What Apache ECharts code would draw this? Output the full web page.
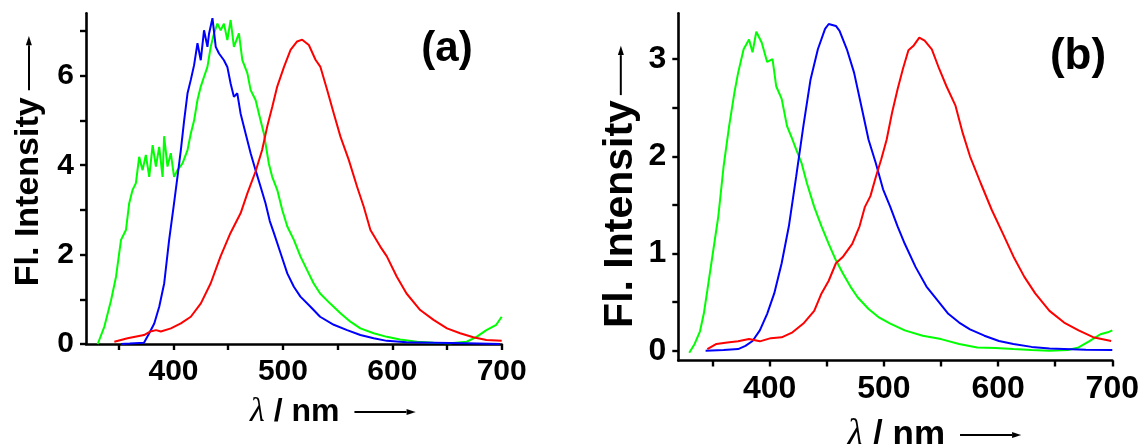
<!DOCTYPE html>
<html><head><meta charset="utf-8">
<script src="https://cdn.jsdelivr.net/npm/echarts@6/dist/echarts.min.js"></script>
<style>html,body{margin:0;padding:0;background:#fff}#c{width:1147px;height:444px}</style>
</head><body><div id="c"></div>
<script>
// ---- axis ticks / labels ----
const xTickValues = [350, 400, 450, 500, 550, 600, 650, 700];
const xLabelValues = [400, 500, 600, 700];
const yTickValuesA = [0, 1, 2, 3, 4, 5, 6, 7];
const yLabelValuesA = [0, 2, 4, 6];
const yTickValuesB = [0, 0.5, 1, 1.5, 2, 2.5, 3];
const yLabelValuesB = [0, 1, 2, 3];
const panelLabels = ['(a)', '(b)'];

// ---- panel (a) spectra: [wavelength nm, intensity] ----
const greenA = [[330.7,0],[336.8,0.39],[342.9,0.98],[347.4,1.5],[352,2.33],[356.5,2.55],[359.5,3.15],[362.6,3.45],[365.6,3.6],[368.6,4.19],[371.7,3.89],[374.7,4.23],[377.8,3.74],[380.9,4.45],[383.9,3.97],[386.9,4.41],[390,3.74],[391.4,4.65],[394.5,3.97],[397.5,4.27],[400.5,3.74],[403.6,3.89],[408.2,4.04],[412.8,4.34],[415.8,4.71],[418.8,5.0],[421.9,5.46],[424.9,5.76],[427.9,5.98],[431,6.2],[434,6.65],[437,6.95],[440.1,7.17],[443.1,7.02],[446.1,7.17],[449.2,6.8],[452.2,7.25],[455.2,6.65],[459.8,6.95],[462.9,6.35],[467.5,6.06],[470.5,5.68],[475,5.46],[479.6,5.0],[482.6,4.71],[487.1,4.04],[490.2,3.74],[494.8,3.45],[499.4,3.0],[504,2.63],[510,2.33],[516,1.96],[522,1.66],[528,1.36],[534,1.13],[543,0.91],[552.6,0.69],[561.7,0.5],[570.8,0.35],[583,0.24],[595,0.16],[607,0.1],[622.5,0.05],[637.7,0.03],[653,0.015],[668,0.05],[677,0.16],[686,0.31],[695,0.43],[700,0.61]];
const blueA = [[352,0],[360,0.01],[373,0.03],[377.8,0.24],[382.4,0.46],[387,0.84],[391.5,1.36],[396,2.33],[400.5,3.15],[403.6,3.74],[406.7,4.34],[409.7,5.0],[412.8,5.61],[415.8,5.91],[418.8,6.24],[421.9,6.73],[424.9,6.35],[427.9,7.02],[431,6.65],[432.5,6.95],[435.6,7.29],[438.6,6.65],[441.6,6.5],[446.1,6.35],[449.2,6.2],[452.2,5.83],[455.2,5.53],[458.3,5.61],[461.3,5.16],[465.9,4.71],[470.5,4.27],[475,3.89],[479.6,3.52],[484.1,3.15],[488,2.75],[491.8,2.48],[497.9,2.03],[504,1.58],[510,1.28],[516,1.06],[525,0.84],[534,0.61],[546.5,0.43],[558.7,0.31],[570.8,0.2],[583,0.13],[595,0.07],[613,0.04],[637.7,0.03],[668,0.015],[698.5,0]];
const redA = [[345.9,0.05],[358,0.13],[373,0.2],[379,0.28],[384,0.31],[388.4,0.28],[397.6,0.35],[406.7,0.46],[415.8,0.61],[425,0.91],[434,1.36],[443,1.96],[452,2.48],[461.4,2.93],[467.5,3.37],[475,3.86],[481,4.34],[485.7,4.87],[490.3,5.31],[494.8,5.76],[501,6.2],[507,6.58],[513,6.77],[517.6,6.81],[523.7,6.69],[529.8,6.36],[534.3,6.2],[540.4,5.69],[546.5,5.16],[552.6,4.64],[560.2,4.12],[567.8,3.52],[573.9,3.07],[580,2.55],[589,2.18],[595,1.96],[604,1.51],[613,1.13],[625.5,0.76],[637.7,0.54],[650,0.35],[662,0.24],[674,0.15],[686,0.09],[700,0.075]];

// ---- panel (b) spectra ----
const greenB = [[329.6,-0.02],[334.3,0.07],[339,0.2],[342.3,0.38],[345.4,0.62],[350.2,1.0],[355,1.38],[359.7,1.9],[364.5,2.31],[369.2,2.66],[372.4,2.86],[377.2,3.1],[381.9,3.2],[385,3.07],[388.3,3.28],[393,3.17],[397.8,2.97],[402.5,3.0],[405.7,2.72],[410.5,2.59],[415.2,2.31],[420,2.17],[423.2,2.07],[427.9,1.93],[432.7,1.72],[439,1.48],[445.4,1.28],[451.7,1.1],[458,0.93],[464.4,0.79],[470.7,0.66],[477,0.55],[486.6,0.43],[496,0.34],[505.6,0.28],[518.3,0.21],[534,0.155],[550,0.12],[565.9,0.07],[581.7,0.034],[597.6,0.028],[613.4,0.017],[629.3,0.007],[645,0],[661,0.007],[670.5,0.034],[680,0.1],[689.6,0.17],[696,0.19],[700,0.21]];
const blueB = [[343.9,0],[359.7,0.007],[372.4,0.017],[378.8,0.05],[385,0.1],[391.4,0.21],[397.8,0.38],[404,0.59],[410.5,0.9],[416.8,1.28],[423.2,1.79],[429.5,2.31],[435.8,2.79],[442.2,3.1],[448.5,3.31],[451.7,3.36],[458,3.34],[461.2,3.29],[467.6,3.1],[473.9,2.86],[480.2,2.52],[486.6,2.17],[492.9,1.93],[499.3,1.66],[505.6,1.48],[512,1.28],[518.3,1.1],[527.8,0.86],[537.3,0.66],[546.8,0.52],[556.4,0.38],[565.9,0.29],[575.4,0.22],[588,0.155],[600.8,0.1],[613.4,0.07],[629.3,0.04],[645,0.024],[676.9,0.01],[700,0.007]];
const redB = [[345.4,0.017],[353.4,0.07],[362.9,0.086],[372.4,0.097],[381.9,0.12],[391.4,0.097],[401,0.13],[410.5,0.138],[420,0.19],[429.5,0.28],[439,0.41],[445.4,0.59],[451.7,0.72],[458,0.9],[464.4,0.97],[472.3,1.1],[478.7,1.28],[483.4,1.48],[488.2,1.59],[493,1.79],[497.7,1.97],[502.4,2.17],[507.2,2.45],[512,2.69],[516.7,2.9],[521.5,3.09],[526.2,3.14],[531,3.22],[535.7,3.19],[542,3.1],[548.4,2.9],[554.8,2.72],[562.7,2.52],[569,2.24],[575.4,2.0],[584.9,1.72],[594.4,1.45],[604,1.21],[613.4,0.97],[623,0.76],[632.5,0.59],[645,0.41],[657.8,0.29],[670.5,0.21],[683.2,0.14],[699,0.1]];

const SANS = 'Liberation Sans';
function arrowRich(gap, len) {
  return {
    sp: { width: gap, height: 2 },
    ln: { width: len, height: 2, backgroundColor: '#000' },
    hd: { fontFamily: 'DejaVu Sans', fontSize: 12, color: '#000' }
  };
}
function xAxisCfg(gi, fs, tfs, gap) {
  const rich = Object.assign({
    l: { fontFamily: 'Liberation Serif', fontStyle: 'italic', fontSize: tfs + 2, color: '#000' },
    t: { fontFamily: SANS, fontWeight: 'bold', fontSize: tfs, color: '#000' }
  }, arrowRich(15, 52));
  return {
    gridIndex: gi, type: 'value', min: 320, max: 700,
    axisLine: { onZero: false, lineStyle: { color: '#000', width: 2.6 } },
    axisTick: { customValues: xTickValues, length: 6, lineStyle: { color: '#000', width: 2.4 } },
    axisLabel: { customValues: xLabelValues, fontFamily: SANS, fontWeight: 'bold', fontSize: fs, color: '#000', margin: 13 },
    splitLine: { show: false },
    name: '{l|λ}{t| / nm}{sp| }{ln| }{hd|►}', nameLocation: 'middle', nameGap: gap, nameMoveOverlap: false,
    nameTextStyle: { padding: [0, 0, 0, 78], rich: rich }
  };
}
function yAxisCfg(gi, min, max, ticks, labels, fs, tfs, gap, padL, aGap, aLen) {
  const rich = Object.assign({
    t: { fontFamily: SANS, fontWeight: 'bold', fontSize: tfs, color: '#000' }
  }, arrowRich(aGap, aLen));
  return {
    gridIndex: gi, type: 'value', min: min, max: max,
    axisLine: { onZero: false, lineStyle: { color: '#000', width: 2.6 } },
    axisTick: { customValues: ticks, length: 6, lineStyle: { color: '#000', width: 2.4 } },
    axisLabel: { customValues: labels, fontFamily: SANS, fontWeight: 'bold', fontSize: fs, color: '#000', margin: 12 },
    splitLine: { show: false },
    name: '{t|Fl. Intensity}{sp| }{ln| }{hd|►}', nameLocation: 'middle', nameGap: gap, nameRotate: 90, nameMoveOverlap: false,
    nameTextStyle: { padding: [0, 0, 0, padL], rich: rich }
  };
}
function line(name, data, color, xi) {
  return { name: name, type: 'line', xAxisIndex: xi, yAxisIndex: xi, data: data, showSymbol: false,
    lineStyle: { color: color, width: 2 }, itemStyle: { color: color }, smooth: false };
}

const chart = echarts.init(document.getElementById('c'), null, { renderer: 'canvas' });
chart.setOption({
  animation: false,
  backgroundColor: '#fff',
  grid: [
    { left: 86, right: 645.3, top: 13.3, bottom: 100, containLabel: false, outerBoundsMode: 'none' },
    { left: 678.3, right: 34.7, top: 13.3, bottom: 83.5, containLabel: false, outerBoundsMode: 'none' }
  ],
  xAxis: [xAxisCfg(0, 30, 32, 51), xAxisCfg(1, 32, 35, 56)],
  yAxis: [
    yAxisCfg(0, 0, 7.4, yTickValuesA, yLabelValuesA, 30, 34, 40, 35, 7, 45),
    yAxisCfg(1, -0.1, 3.47, yTickValuesB, yLabelValuesB, 32, 41, 37, 0, 5, 40)
  ],
  graphic: [
    { type: 'text', x: 447, y: 49, style: { text: panelLabels[0], fontFamily: SANS, fontWeight: 'bold', fontSize: 42, fill: '#000', align: 'center', verticalAlign: 'middle' } },
    { type: 'text', x: 1078, y: 57, style: { text: panelLabels[1], fontFamily: SANS, fontWeight: 'bold', fontSize: 44, fill: '#000', align: 'center', verticalAlign: 'middle' } }
  ],
  series: [
    line('green (a)', greenA, '#00ff00', 0),
    line('blue (a)', blueA, '#0000ff', 0),
    line('red (a)', redA, '#ff0000', 0),
    line('green (b)', greenB, '#00ff00', 1),
    line('blue (b)', blueB, '#0000ff', 1),
    line('red (b)', redB, '#ff0000', 1)
  ]
});
</script></body></html>
